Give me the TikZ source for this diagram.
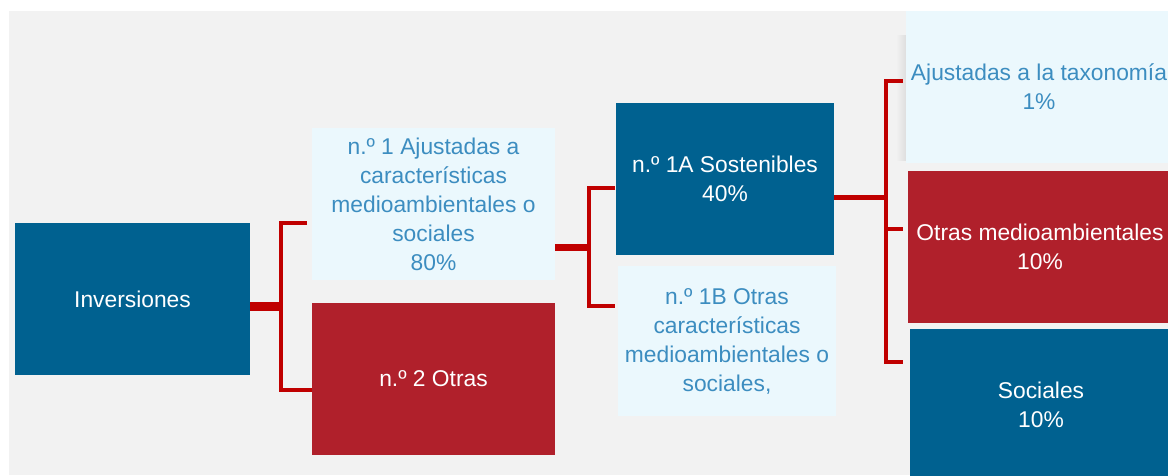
\documentclass[tikz,border=0pt]{standalone}
\usepackage{fontspec}
\setmainfont{Liberation Sans}
\usepackage{tikz}

\definecolor{bgGray}{HTML}{F2F2F2}
\definecolor{boxBlue}{HTML}{006190}
\definecolor{boxRed}{HTML}{B0202B}
\definecolor{boxLight}{HTML}{EBF8FD}
\definecolor{txtBlue}{HTML}{3C8DC0}
\definecolor{linkRed}{HTML}{C00000}

\tikzset{
  box/.style={rectangle, inner sep=0pt, align=center,
    font=\fontsize{22.8}{29}\selectfont},
  bluebox/.style={box, fill=boxBlue, text=white},
  redbox/.style={box, fill=boxRed, text=white},
  lightbox/.style={box, fill=boxLight, text=txtBlue},
  link/.style={draw=linkRed, line width=4.5pt},
  stub/.style={draw=linkRed, line width=#1},
  stub/.default=8pt
}

\begin{document}
\begin{tikzpicture}[x=1pt, y=-1pt]
  \clip (0,0) rectangle (1168,475);
  \fill[white] (0,0) rectangle (1168,475);
  \fill[bgGray] (9,11) rectangle (1168,475);
  \shade[left color=bgGray, right color=black!13] (896,35) rectangle (906,160);
  %
  \node [bluebox, minimum width=235pt, minimum height=152pt] (inv) at (132.5,299) {Inversiones};
  \node [lightbox, minimum width=243pt, minimum height=152pt] (opt1) at (433.5,204)
    {n.º 1 Ajustadas a\\características\\medioambientales o\\sociales\\80\%};
  \node [redbox, minimum width=243pt, minimum height=152pt] (opt2) at (433.5,379) {n.º 2 Otras};
  \node [bluebox, minimum width=218pt, minimum height=152pt] (s1a) at (725,179)
    {n.º 1A Sostenibles\\40\%};
  \node [lightbox, minimum width=218pt, minimum height=150pt] (s1b) at (727,341)
    {n.º 1B Otras\\características\\medioambientales o\\sociales,};
  \node [lightbox, minimum width=266pt, minimum height=152pt] (tax) at (1039,87)
    {Ajustadas a la taxonomía\\1\%};
  \node [redbox, minimum width=264pt, minimum height=152pt] (oma) at (1040,247)
    {Otras medioambientales\\10\%};
  \node [bluebox, minimum width=262pt, minimum height=152pt] (soc) at (1041,405)
    {Sociales\\10\%};
  %
  % first split
  \coordinate (k1) at (281,306);
  \coordinate (t1) at (307,223);
  \coordinate (b1) at (312,390);
  \draw [stub=9pt] (inv.east |- k1) -- (k1);
  \draw [link] (t1) -| (k1) |- (b1);
  % second split
  \coordinate (k2) at (589,247);
  \coordinate (t2) at (615,188);
  \coordinate (b2) at (615,306);
  \draw [stub=7pt] (opt1.east |- k2) -- (k2);
  \draw [link] (t2) -| (k2) |- (b2);
  % third split
  \coordinate (k3) at (886,197);
  \coordinate (t3) at (903,81);
  \coordinate (m3) at (903,229);
  \coordinate (b3) at (903,362);
  \draw [stub=5pt] (s1a.east |- k3) -- (k3);
  \draw [link] (t3) -| (k3) |- (b3);
  \draw [link] (k3 |- m3) -- (m3);
\end{tikzpicture}
\end{document}
